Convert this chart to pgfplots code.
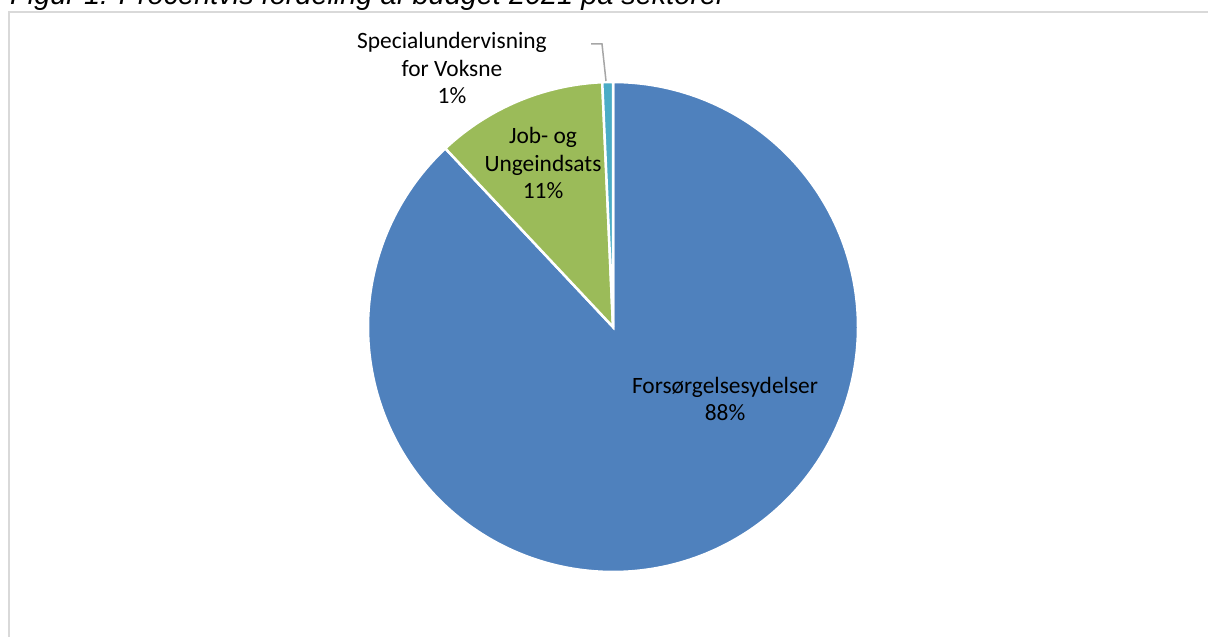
\documentclass[border=0pt]{standalone}
\usepackage{pgfplots}
\pgfplotsset{compat=1.18}
\usepackage{pgfplotstable}
\usepackage{fontspec}
\setmainfont{Carlito}
\newfontfamily\arialfont{Liberation Sans}
\definecolor{sblue}{HTML}{4F81BD}
\definecolor{sgreen}{HTML}{9BBB59}
\definecolor{scyan}{HTML}{4BACC6}
\definecolor{framegray}{HTML}{D9D9D9}
\definecolor{leadgray}{HTML}{A6A6A6}
\pgfplotstableread{
name value
Forsorgelsesydelser 88.0
JobUngeindsats 11.3
Specialundervisning 0.7
}\piedata
\begin{document}
\begin{tikzpicture}
\pgfplotstablegetelem{0}{value}\of\piedata \let\va\pgfplotsretval
\pgfplotstablegetelem{1}{value}\of\piedata \let\vb\pgfplotsretval
\pgfplotstablegetelem{2}{value}\of\piedata \let\vc\pgfplotsretval
\pgfmathsetmacro{\aA}{90}
\pgfmathsetmacro{\aB}{90-3.6*\va}
\pgfmathsetmacro{\aC}{\aB-3.6*\vb}
\pgfmathsetmacro{\aD}{\aC-3.6*\vc}
\useasboundingbox (0,0) rectangle (1208bp,637bp);
\clip (0,0) rectangle (1208bp,637bp);
\begin{axis}[at={(0,0)}, anchor=south west, width=1208bp, height=637bp,
  scale only axis, xmin=0, xmax=1208, ymin=0, ymax=637, hide axis, clip=false]
  % chart frame
  \addplot[draw=framegray, line width=1.5bp] coordinates {(9,-20) (9,625) (1240,625)};
  % slices
  \addplot[fill=sblue, draw=white, line width=2.5bp, domain=\aB:\aA, samples=240, variable=\t]
    ({613+245*cos(t)},{310+245*sin(t)}) -- (613,310) -- cycle;
  \addplot[fill=sgreen, draw=white, line width=2.5bp, domain=\aC:\aB, samples=60, variable=\t]
    ({613+245*cos(t)},{310+245*sin(t)}) -- (613,310) -- cycle;
  \addplot[fill=scyan, draw=white, line width=2.5bp, domain=\aD:\aC, samples=10, variable=\t]
    ({613+245*cos(t)},{310+245*sin(t)}) -- (613,310) -- cycle;
  % leader line
  \addplot[draw=leadgray, line width=1.5bp] coordinates {(591,593) (602,593) (606,556)};
  % labels
  \node[align=center, font=\fontsize{23.5}{28}\selectfont] at (725,238) {Forsørgelsesydelser\\88\%};
  \node[align=center, font=\fontsize{23.5}{28}\selectfont] at (543,474) {Job- og\\Ungeindsats\\11\%};
  \node[align=center, font=\fontsize{23.5}{28}\selectfont] at (452,569) {Specialundervisning\\for Voksne\\1\%};
\end{axis}
\node[anchor=base west, inner sep=0pt, font=\arialfont\itshape\fontsize{29}{34}\selectfont] at (10bp,632.5bp)
  {Figur 1: Procentvis fordeling af budget 2021 på sektorer};
\end{tikzpicture}
\end{document}
